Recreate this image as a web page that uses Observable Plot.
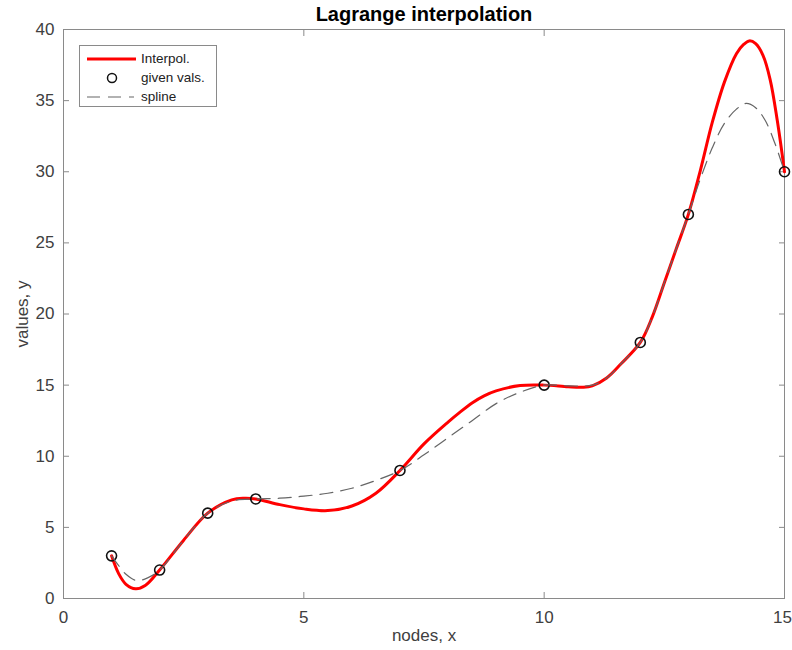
<!DOCTYPE html>
<html>
<head>
<meta charset="utf-8">
<script src="https://cdn.jsdelivr.net/npm/d3@7"></script>
<script src="https://cdn.jsdelivr.net/npm/@observablehq/plot@0.6"></script>
<style>
  html, body { margin: 0; padding: 0; background: #fff; }
  #wrap { position: relative; width: 792px; height: 650px; }
  #legend {
    position: absolute; left: 79px; top: 45px; width: 138px; height: 62px;
    border: 1px solid #8a8a8a; background: #fff; box-sizing: border-box;
    font-family: "Liberation Sans", Arial, sans-serif; font-size: 13.5px; color: #222;
  }
  #legend .row { position: absolute; left: 0; height: 20px; width: 100%; }
  #legend svg { position: absolute; left: 6px; top: 0; }
  #legend span { position: absolute; left: 61px; top: 2px; }
</style>
</head>
<body>
<div id="wrap">
  <div id="chart"></div>
  <div id="legend">
    <div class="row" style="top:3px"><svg width="52" height="20"><line x1="1" x2="50" y1="10" y2="10" stroke="#ff0000" stroke-width="3"/></svg><span>Interpol.</span></div>
    <div class="row" style="top:22px"><svg width="52" height="20"><circle cx="26" cy="10" r="4.5" fill="none" stroke="#111" stroke-width="1.5"/></svg><span>given vals.</span></div>
    <div class="row" style="top:41px"><svg width="52" height="20"><line x1="1" x2="48" y1="10" y2="10" stroke="#666" stroke-width="1.2" stroke-dasharray="13,8"/></svg><span>spline</span></div>
  </div>
</div>
<script>
// Given nodes
const nodeX = [1, 2, 3, 4, 7, 10, 12, 13, 15];
const nodeY = [3, 2, 6, 7, 9, 15, 18, 27, 30];

// Lagrange interpolation curve
const lagX = [1, 1.15, 1.3, 1.5, 1.7, 2, 2.5, 3, 3.5, 3.75, 4, 4.5, 5, 5.5, 6, 6.5, 7, 7.5, 8, 8.25, 8.5, 8.75, 9, 9.5, 10, 10.5, 10.8, 11, 11.3, 11.6, 12, 12.25, 12.5, 12.75, 13, 13.25, 13.5, 13.75, 14, 14.15, 14.27, 14.4, 14.55, 14.7, 14.85, 15];
const lagY = [3, 1.73, 1.0, 0.68, 0.91, 2, 4.1, 6, 6.93, 7.05, 7.0, 6.6, 6.3, 6.18, 6.5, 7.4, 9, 10.87, 12.4, 13.1, 13.75, 14.25, 14.6, 14.97, 15, 14.88, 14.85, 14.95, 15.5, 16.5, 18, 19.8, 22.2, 24.6, 27, 30.1, 33.5, 36.3, 38.3, 38.95, 39.2, 39.0, 38.2, 36.5, 33.6, 30];

// Spline curve
const splX = [1, 1.12, 1.3, 1.52, 1.75, 2, 2.5, 3, 3.5, 4, 4.5, 5, 5.5, 6, 6.5, 7, 7.5, 8, 8.5, 9, 9.5, 10, 10.5, 11, 11.3, 11.6, 12, 12.25, 12.5, 12.75, 13, 13.25, 13.5, 13.75, 14, 14.2, 14.4, 14.6, 14.8, 15];
const splY = [3, 2.44, 1.7, 1.26, 1.45, 2, 4.1, 6, 6.85, 7, 7.05, 7.2, 7.4, 7.75, 8.3, 9, 10.1, 11.3, 12.5, 13.7, 14.5, 15, 14.95, 15.0, 15.5, 16.5, 18, 19.8, 22.2, 24.6, 27, 29.5, 31.7, 33.4, 34.4, 34.8, 34.5, 33.6, 32.0, 30];

const xTicks = [0, 5, 10, 15];
const xLabelTicks = [0, 5, 10];
const xLastTick = [15];
const yTicks = [0, 5, 10, 15, 20, 25, 30, 35, 40];

const lag = lagX.map((x, i) => ({x, y: lagY[i]}));
const spl = splX.map((x, i) => ({x, y: splY[i]}));
const nodes = nodeX.map((x, i) => ({x, y: nodeY[i]}));

const axisColor = "#8a8a8a";
const textColor = "#404040";

const chart = Plot.plot({
  width: 792,
  height: 650,
  marginLeft: 63,
  marginRight: 8,
  marginTop: 29,
  marginBottom: 52,
  style: {fontFamily: "Liberation Sans, Arial, sans-serif", fontSize: "17px", color: textColor, background: "#fff"},
  x: {domain: [0, 15]},
  y: {domain: [0, 40]},
  marks: [
    Plot.frame({stroke: axisColor, strokeWidth: 1}),
    Plot.axisX({ticks: xLabelTicks, anchor: "bottom", tickSize: 0, tickPadding: 12, label: null, fontSize: 17}),
    Plot.axisX({ticks: xLastTick, anchor: "bottom", tickSize: 0, tickPadding: 12, label: null, fontSize: 17, dx: -2}),
    Plot.axisY({ticks: yTicks, anchor: "left", tickSize: 0, tickPadding: 9, label: null, fontSize: 17}),
    Plot.axisX({ticks: xTicks, anchor: "bottom", tickSize: -6, text: null, label: null, stroke: axisColor}),
    Plot.axisX({ticks: xTicks, anchor: "top", tickSize: -6, text: null, label: null, stroke: axisColor}),
    Plot.axisY({ticks: yTicks, anchor: "left", tickSize: -6, text: null, label: null, stroke: axisColor}),
    Plot.axisY({ticks: yTicks, anchor: "right", tickSize: -6, text: null, label: null, stroke: axisColor}),
    Plot.line(lag, {x: "x", y: "y", stroke: "#ff0000", strokeWidth: 3, curve: "catmull-rom"}),
    Plot.dot(nodes, {x: "x", y: "y", r: 5, stroke: "#111", strokeWidth: 1.6, fill: "none"}),
    Plot.line(spl, {x: "x", y: "y", stroke: "#666", strokeWidth: 1.2, strokeDasharray: "13,8", curve: "catmull-rom"}),
    Plot.text(["Lagrange interpolation"], {frameAnchor: "top", lineAnchor: "middle", dy: -15, fontWeight: "bold", fontSize: 20, fill: "#000"}),
    Plot.text(["nodes, x"], {frameAnchor: "bottom", lineAnchor: "middle", dy: 37, fontSize: 17, fill: textColor}),
    Plot.text(["values, y"], {frameAnchor: "left", textAnchor: "middle", lineAnchor: "middle", dx: -41, rotate: -90, fontSize: 17, fill: textColor})
  ]
});
document.getElementById("chart").appendChild(chart);
</script>
</body>
</html>
